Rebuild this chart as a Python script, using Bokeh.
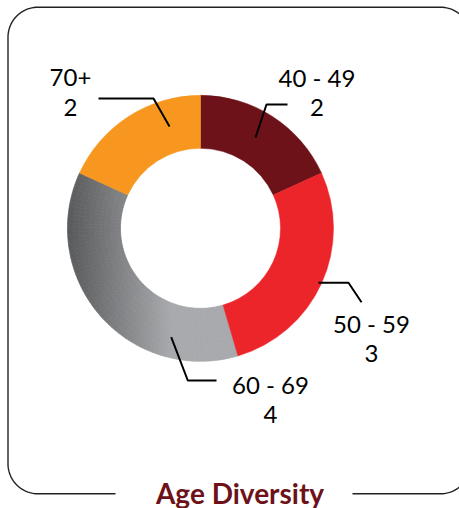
import numpy as np
from bokeh.plotting import figure
from bokeh.models import Range1d, ColumnDataSource
from bokeh.core.properties import value
from bokeh.embed import file_html
from bokeh.resources import INLINE

# ---- data ----
categories = ["40 - 49", "50 - 59", "60 - 69", "70+"]
counts = [2, 3, 4, 2]
slice_colors = ["#6d1218", "#ec252b", None, "#f7971f"]  # None -> gradient grey
title_text = "Age Diversity"

# ---- layout (image pixel coordinates, y downward) ----
W, H = 459, 508
CX, CY = 200.0, 227.8
R_OUT, R_IN = 133.0, 80.0
GRAD_DARK, GRAD_LIGHT = (0x58, 0x59, 0x5b), (0xa7, 0xa9, 0xac)
GRAD_X0, GRAD_X1 = 67.0, 170.0
TXT_SHIFT = 10.0

label_pos = {  # (center x, baseline of name, baseline of value)
    "40 - 49": (316.5, 87.0, 117.0),
    "50 - 59": (371.0, 333.0, 363.0),
    "60 - 69": (270.0, 394.0, 424.0),
    "70+": (70.0, 87.0, 117.0),
}
leaders = {
    "40 - 49": [(255, 137), (266, 104), (287, 104)],
    "50 - 59": [(318, 282.3), (348, 282.3), (361, 301.7)],
    "60 - 69": [(170.7, 336.7), (187.3, 380), (216, 380)],
    "70+": [(98, 98), (153, 98), (169, 126)],
}


def fy(y):
    return H - y


p = figure(width=W, height=H, x_range=Range1d(0, W), y_range=Range1d(0, H),
           output_backend="svg", toolbar_location=None, min_border=0,
           x_axis_location=None, y_axis_location=None)
p.grid.visible = False
p.outline_line_color = None
p.background_fill_color = "white"
p.border_fill_color = "white"

# ---- rounded frame with gap for title ----
r = 30.0
L, Rr, T, B = 7.5, 470.0, 6.7, 493.3
gap_l, gap_r = 115.0, 352.0


def arc_pts(cx, cy, a0, a1, n=24):
    a = np.linspace(a0, a1, n)
    return list(cx + r * np.cos(a)), list(cy + r * np.sin(a))


xs, ys = [], []
xs += [gap_l, L + r]; ys += [B, B]
ax, ay = arc_pts(L + r, B - r, np.pi / 2, np.pi); xs += ax; ys += ay
xs += [L, L]; ys += [B - r, T + r]
ax, ay = arc_pts(L + r, T + r, np.pi, 1.5 * np.pi); xs += ax; ys += ay
xs += [Rr - r]; ys += [T]
ax, ay = arc_pts(Rr - r, T + r, 1.5 * np.pi, 2 * np.pi); xs += ax; ys += ay
xs += [Rr]; ys += [B - r]
ax, ay = arc_pts(Rr - r, B - r, 0, np.pi / 2); xs += ax; ys += ay
xs += [gap_r]; ys += [B]
p.line(xs, [fy(v) for v in ys], line_color="#222222", line_width=1.4)

# ---- donut ----
total = float(sum(counts))
cum = np.concatenate([[0], np.cumsum(counts)]) / total
starts = [np.pi / 2 - 2 * np.pi * c for c in cum[:-1]]
ends = [np.pi / 2 - 2 * np.pi * c for c in cum[1:]]

flat = dict(start=[], end=[], color=[])
grad = dict(start=[], end=[], rin=[], rout=[], color=[])
for cat, s, e, col in zip(categories, starts, ends, slice_colors):
    if col is not None:
        flat["start"].append(s); flat["end"].append(e); flat["color"].append(col)
    else:
        na, nr = 70, 10
        angs = np.linspace(s, e, na + 1)
        rads = np.linspace(R_IN, R_OUT, nr + 1)
        for i in range(na):
            for j in range(nr):
                am = 0.5 * (angs[i] + angs[i + 1])
                rm = 0.5 * (rads[j] + rads[j + 1])
                xm = CX + rm * np.cos(am)
                t = min(max((xm - GRAD_X0) / (GRAD_X1 - GRAD_X0), 0.0), 1.0)
                c = tuple(int(round(a + (b - a) * t)) for a, b in zip(GRAD_DARK, GRAD_LIGHT))
                grad["start"].append(angs[i]); grad["end"].append(angs[i + 1])
                grad["rin"].append(rads[j]); grad["rout"].append(rads[j + 1])
                grad["color"].append("#%02x%02x%02x" % c)

p.annular_wedge(x=CX, y=fy(CY), inner_radius="rin", outer_radius="rout",
                start_angle="start", end_angle="end", direction="clock",
                fill_color="color", line_color="color", line_width=0.7,
                source=ColumnDataSource(grad))
p.annular_wedge(x=CX, y=fy(CY), inner_radius=R_IN, outer_radius=R_OUT,
                start_angle="start", end_angle="end", direction="clock",
                fill_color="color", line_color="color", line_width=0.5,
                source=ColumnDataSource(flat))

# ---- leader lines ----
p.multi_line(xs=[[pt[0] for pt in leaders[c]] for c in categories],
             ys=[[fy(pt[1]) for pt in leaders[c]] for c in categories],
             line_color="black", line_width=2)

# ---- labels ----
lx, ly, lt = [], [], []
for cat, n in zip(categories, counts):
    x0, b1, b2 = label_pos[cat]
    lx += [x0, x0]; ly += [fy(b1 - TXT_SHIFT), fy(b2 - TXT_SHIFT)]; lt += [cat, str(n)]
p.text(x=lx, y=ly, text=lt, text_font=value("Lato"), text_font_size="24px",
       text_color="#000000", text_align="center", text_baseline="alphabetic")

# ---- title ----
p.text(x=[239.5], y=[fy(492.0)], text=[title_text], text_font=value("Lato"),
       text_font_size="28px", text_font_style="bold", text_color="#6d1218",
       text_align="center", text_baseline="alphabetic")

open("out.html", "w").write(file_html(p, INLINE))
